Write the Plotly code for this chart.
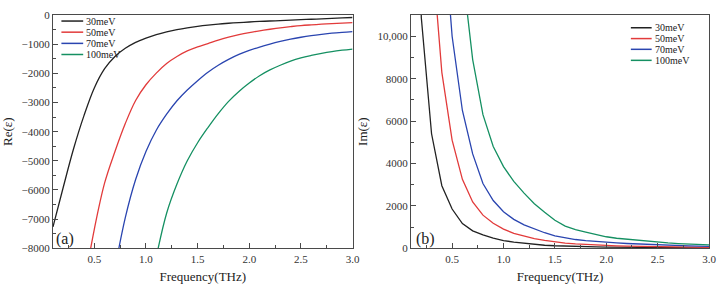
import plotly.graph_objects as go

# ---------------- data ----------------
freq = [0.1, 0.2, 0.3, 0.4, 0.5, 0.6, 0.7, 0.8, 0.9, 1.0,
        1.1, 1.2, 1.3, 1.4, 1.5, 1.6, 1.7, 1.8, 1.9, 2.0,
        2.1, 2.2, 2.3, 2.4, 2.5, 2.6, 2.7, 2.8, 2.9, 3.0]

series_names = ["30meV", "50meV", "70meV", "100meV"]
series_colors = ["#222222", "#e23b3b", "#2a45b0", "#159062"]

re_30 = [-7270, -5900, -4580, -3450, -2500, -1840, -1420, -1140, -935, -790,
         -670, -575, -500, -438, -385, -342, -308, -280, -256, -236,
         -218, -202, -188, -174, -158, -142, -127, -112, -97, -82]
re_50 = [None, None, None, -9300, -7350, -5760, -4680, -3720, -2930, -2390,
         -1990, -1660, -1420, -1230, -1090, -975, -855, -755, -670, -600,
         -540, -485, -435, -395, -360, -335, -312, -292, -274, -258]
re_70 = [None, None, None, None, None, None, -8700, -6950, -5640, -4680,
         -3950, -3400, -2940, -2570, -2250, -1960, -1720, -1520, -1350, -1210,
         -1095, -995, -905, -825, -760, -705, -660, -620, -590, -565]
re_100 = [None, None, None, None, None, None, None, None, None, None,
          -8300, -6800, -5800, -5000, -4380, -3860, -3380, -2960, -2620, -2330,
          -2080, -1880, -1720, -1580, -1470, -1385, -1312, -1252, -1205, -1165]

im_30 = [42000, 10900, 5400, 2950, 1850, 1160, 820, 630, 480, 360,
         290, 230, 175, 140, 115, 95, 80, 70, 60, 52,
         46, 41, 37, 33, 30, 27, 25, 23, 21, 20]
im_50 = [None, None, 14300, 8300, 5100, 3250, 2180, 1560, 1180, 900,
         700, 560, 450, 370, 300, 240, 200, 170, 145, 125,
         110, 97, 86, 77, 69, 62, 56, 51, 47, 43]
im_70 = [None, None, None, 16250, 10000, 6500, 4450, 3050, 2250, 1720,
         1360, 1100, 900, 730, 580, 480, 410, 360, 315, 280,
         250, 222, 198, 176, 157, 140, 125, 112, 100, 90]
im_100 = [None, None, None, None, None, 13100, 8900, 6300, 4800, 3850,
          3150, 2600, 2100, 1700, 1320, 1040, 880, 760, 650, 540,
          470, 420, 370, 320, 280, 250, 220, 195, 175, 155]

re_series = [re_30, re_50, re_70, re_100]
im_series = [im_30, im_50, im_70, im_100]

x_ticks = [0.5, 1.0, 1.5, 2.0, 2.5, 3.0]
re_ticks = [0, -1000, -2000, -3000, -4000, -5000, -6000, -7000, -8000]
im_ticks = [0, 2000, 4000, 6000, 8000, 10000]
im_ticktext = ["0", "2000", "4000", "6000", "8000", "10,000"]

# ---------------- figure ----------------
W, H = 726, 289
FONT = "Liberation Serif"
AX = "#4a4a4a"

fig = go.Figure()
for name, color, ys in zip(series_names, series_colors, re_series):
    fig.add_trace(go.Scatter(x=freq, y=ys, mode="lines", name=name,
                             line=dict(color=color, width=1.3, shape="spline",
                                       smoothing=1.0),
                             xaxis="x", yaxis="y", showlegend=False,
                             connectgaps=False))
for name, color, ys in zip(series_names, series_colors, im_series):
    fig.add_trace(go.Scatter(x=freq, y=ys, mode="lines", name=name,
                             line=dict(color=color, width=1.3),
                             xaxis="x2", yaxis="y2", showlegend=False,
                             connectgaps=False))

def px2x(px):
    return px / W

def px2y(py):
    return 1 - py / H

ydom = [px2y(252.7), px2y(9.5)]

common_x = dict(range=[0.1, 3.0], tickvals=x_ticks, tickformat=".1f",
                ticks="inside", ticklen=5, tickwidth=1, tickcolor=AX,
                minor=dict(dtick=0.25, tick0=0, ticks="inside", ticklen=3,
                           tickcolor=AX, tickwidth=1),
                showline=True, linecolor=AX, linewidth=1.2, mirror=True,
                showgrid=False, zeroline=False,
                tickfont=dict(family=FONT, size=11, color="#333"),
                title=dict(text="Frequency(THz)",
                           font=dict(family=FONT, size=13, color="#222"),
                           standoff=8))

fig.update_layout(
    width=W, height=H,
    margin=dict(l=0, r=0, t=0, b=0),
    paper_bgcolor="white", plot_bgcolor="white",
    showlegend=False,
    xaxis=dict(common_x, domain=[px2x(53.5), px2x(356)], anchor="y"),
    xaxis2=dict(common_x, domain=[px2x(415), px2x(716)], anchor="y2"),
    yaxis=dict(domain=ydom, range=[-8000, 0], tickvals=re_ticks,
               ticks="inside", ticklen=5, tickcolor=AX,
               minor=dict(dtick=500, ticks="inside", ticklen=3, tickcolor=AX),
               showline=True, linecolor=AX, linewidth=1.2, mirror=True,
               showgrid=False, zeroline=False, anchor="x",
               tickfont=dict(family=FONT, size=11, color="#333"),
               title=dict(text="Re(ε)", font=dict(family=FONT, size=13, color="#222"),
                          standoff=6)),
    yaxis2=dict(domain=ydom, range=[0, 11000], tickvals=im_ticks,
                ticktext=im_ticktext,
                ticks="inside", ticklen=5, tickcolor=AX,
                minor=dict(dtick=1000, ticks="inside", ticklen=3, tickcolor=AX),
                showline=True, linecolor=AX, linewidth=1.2, mirror=True,
                showgrid=False, zeroline=False, anchor="x2",
                tickfont=dict(family=FONT, size=11, color="#333"),
                title=dict(text="Im(ε)", font=dict(family=FONT, size=13, color="#222"),
                           standoff=6)),
)

# panel labels
fig.add_annotation(text="(a)", x=px2x(55), y=px2y(243), xref="paper", yref="paper",
                   xanchor="left", yanchor="middle", showarrow=False,
                   font=dict(family=FONT, size=16, color="#222"))
fig.add_annotation(text="(b)", x=px2x(418), y=px2y(243), xref="paper", yref="paper",
                   xanchor="left", yanchor="middle", showarrow=False,
                   font=dict(family=FONT, size=16, color="#222"))

# compact legends (line sample + text)
def add_legend(x0, x1, xt, y_rows):
    for name, color, yr in zip(series_names, series_colors, y_rows):
        fig.add_shape(type="line", xref="paper", yref="paper",
                      x0=px2x(x0), x1=px2x(x1), y0=px2y(yr), y1=px2y(yr),
                      line=dict(color=color, width=1.5))
        fig.add_annotation(text=name, x=px2x(xt), y=px2y(yr), xref="paper",
                           yref="paper", xanchor="left", yanchor="middle",
                           showarrow=False,
                           font=dict(family=FONT, size=10, color="#222"))

add_legend(62, 84, 85, [15.7, 27.3, 39.0, 50.6])
add_legend(637, 658, 659, [22.7, 34.0, 45.2, 56.7])

fig.write_html("out.html")
